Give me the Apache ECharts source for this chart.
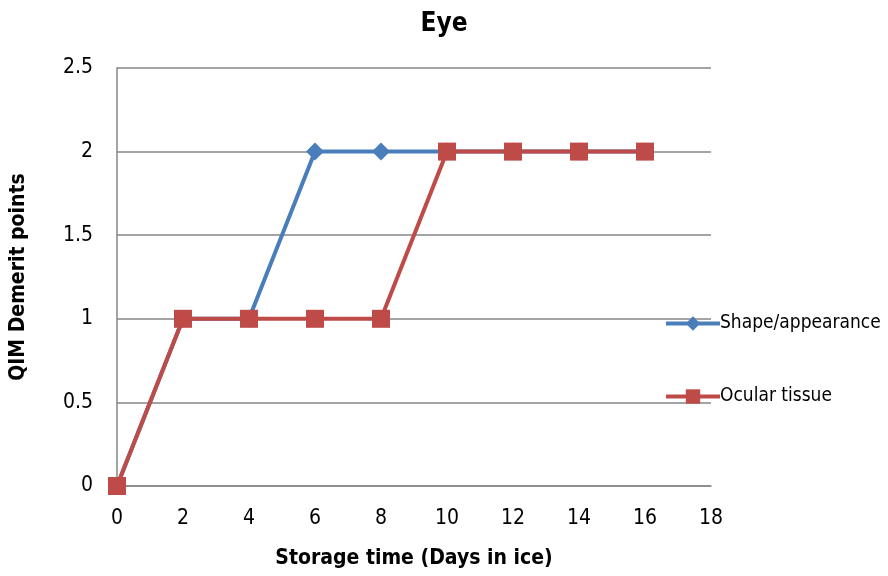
<!DOCTYPE html>
<html><head><meta charset="utf-8">
<script src="https://cdn.jsdelivr.net/npm/echarts@6/dist/echarts.min.js"></script>
<style>html,body{margin:0;padding:0;background:#fff}#c{width:888px;height:576px}</style>
</head><body><div id="c"></div>
<script>
const days = [0, 2, 4, 6, 8, 10, 12, 14, 16];
const shapeAppearance = [0, 1, 1, 2, 2, 2, 2, 2, 2];
const ocularTissue = [0, 1, 1, 1, 1, 2, 2, 2, 2];
const seriesNames = ['Shape/appearance', 'Ocular tissue'];
const FONT = "'Liberation Sans Narrow', 'DejaVu Sans Condensed', sans-serif";
const chart = echarts.init(document.getElementById('c'));
const pair = (xs, ys) => xs.map((x, i) => [x, ys[i]]);
chart.setOption({
  animation: false,
  title: { text: 'Eye', left: 'center', top: 6, textStyle: { fontFamily: FONT, fontWeight: 'bold', fontSize: 26, color: '#000' } },
  grid: { left: 117, right: 177, top: 68, bottom: 90 },
  legend: {
    orient: 'vertical', left: 659, top: 309, itemGap: 54, itemWidth: 54, itemHeight: 18,
    lineStyle: { width: 4 },
    textStyle: { fontFamily: FONT, fontSize: 19, color: '#000', padding: [0, 0, 0, -5] },
    data: seriesNames
  },
  xAxis: {
    type: 'value', min: 0, max: 18, interval: 2,
    name: 'Storage time (Days in ice)', nameLocation: 'middle', nameGap: 62,
    nameTextStyle: { fontFamily: FONT, fontWeight: 'bold', fontSize: 21, color: '#000' },
    axisLine: { show: true, lineStyle: { color: '#868686', width: 1.5 } },
    axisTick: { show: false },
    splitLine: { show: false },
    axisLabel: { fontFamily: FONT, fontSize: 21, color: '#000', margin: 22 }
  },
  yAxis: {
    type: 'value', min: 0, max: 2.5, interval: 0.5,
    name: 'QIM Demerit points', nameLocation: 'middle', nameGap: 88,
    nameTextStyle: { fontFamily: FONT, fontWeight: 'bold', fontSize: 21, color: '#000' },
    axisLine: { show: true, lineStyle: { color: '#868686', width: 1.5 } },
    axisTick: { show: false },
    splitLine: { show: true, lineStyle: { color: '#868686', width: 1.5 } },
    axisLabel: { fontFamily: FONT, fontSize: 21, color: '#000', margin: 24 }
  },
  series: [
    { name: seriesNames[0], type: 'line', data: pair(days, shapeAppearance),
      symbol: 'diamond', symbolSize: 18, itemStyle: { color: '#4a7ebb' },
      lineStyle: { color: '#4a7ebb', width: 4 } },
    { name: seriesNames[1], type: 'line', data: pair(days, ocularTissue),
      symbol: 'rect', symbolSize: 18, itemStyle: { color: '#be4b48' },
      lineStyle: { color: '#be4b48', width: 4 } }
  ]
});
</script></body></html>
